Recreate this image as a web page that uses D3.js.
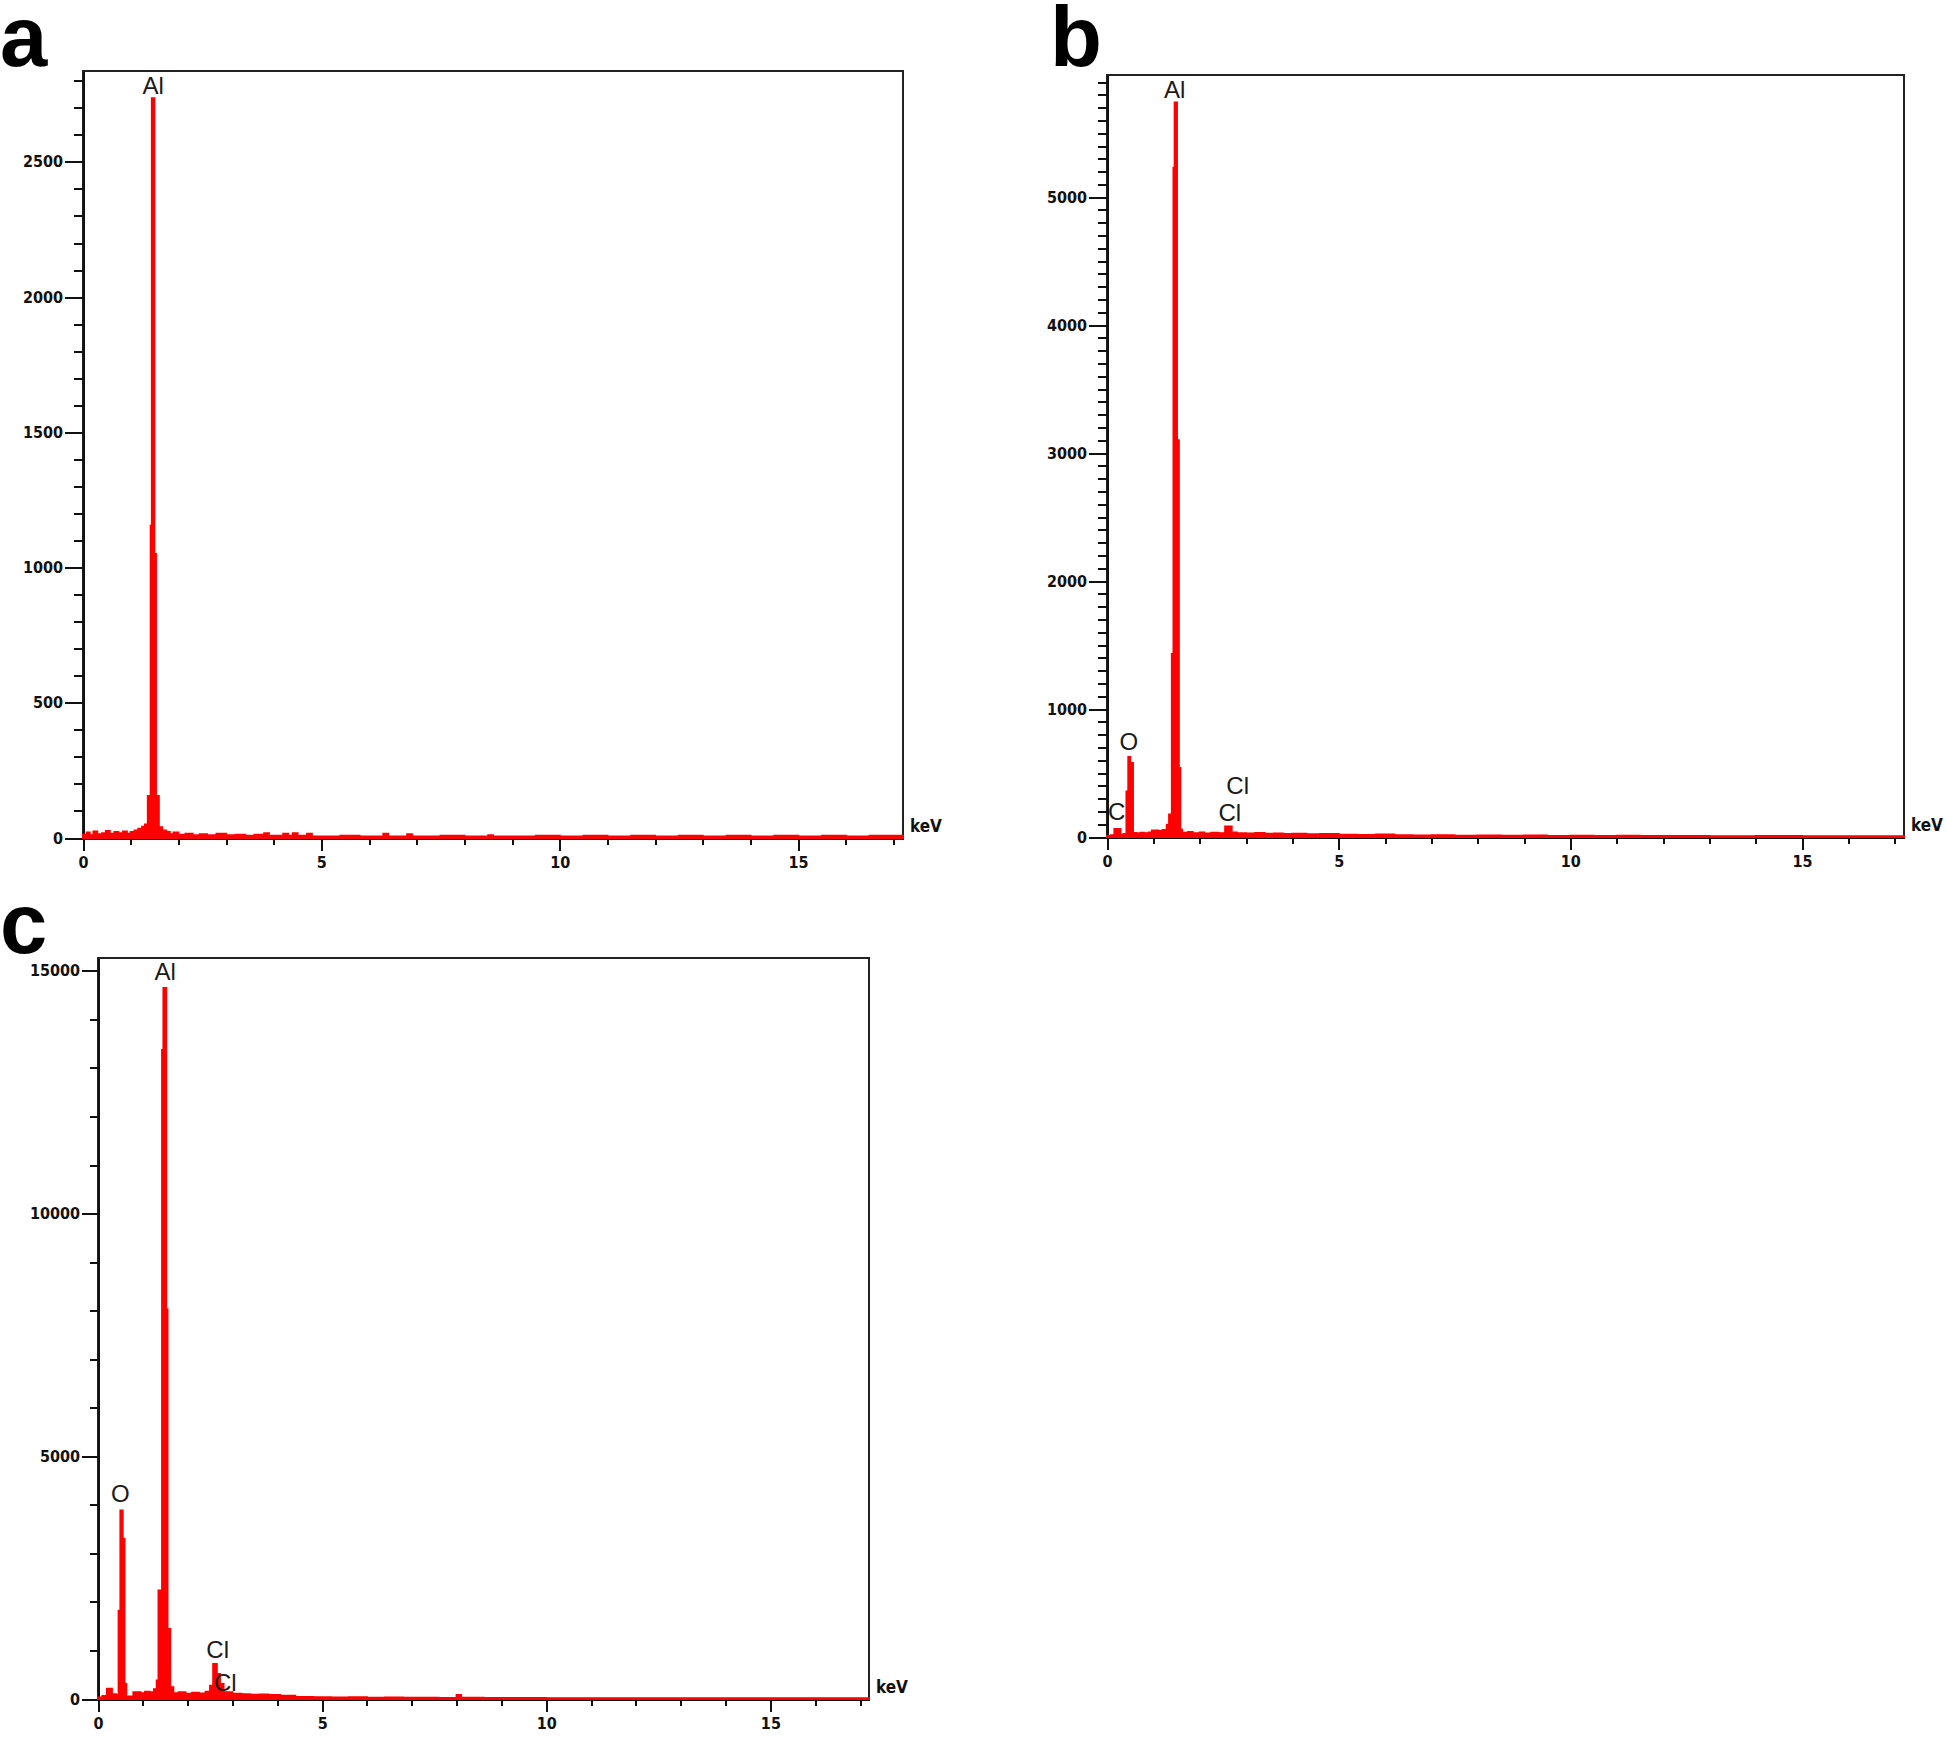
<!DOCTYPE html>
<html>
<head>
<meta charset="utf-8">
<title>EDX spectra</title>
<script src="https://cdn.jsdelivr.net/npm/d3@7"></script>
<style>
  html, body { margin: 0; background: #fff; }
  .axis path, .axis line { stroke: #111; stroke-width: 2; shape-rendering: crispEdges; }
  .axis text {
    font-family: "Liberation Sans Narrow", "DejaVu Sans Condensed", sans-serif;
    font-weight: bold; font-size: 16px; fill: #111;
  }
  .frame { fill: none; stroke: #222; stroke-width: 2; shape-rendering: crispEdges; }
  .spectrum { fill: #ff0000; stroke: #ff0000; stroke-width: 2; }
  .peak-label { font-family: "Liberation Sans", Arial, sans-serif; font-size: 24px; fill: #1a1a1a; text-anchor: middle; }
  .unit { font-family: "Liberation Sans Narrow", "DejaVu Sans Condensed", sans-serif; font-weight: bold; font-size: 17px; fill: #111; }
  .panel-label { font-family: "Liberation Sans", Arial, sans-serif; font-weight: bold; font-size: 85px; fill: #000; }
</style>
</head>
<body>
<svg id="chart" width="1946" height="1740"></svg>
<script>
// energy axis (keV), shared by the three spectra
var xMax = 17.2;
var xMajor = [0, 5, 10, 15];

// y ticks per panel
var yMaxA = 2836, yMajorA = [0, 500, 1000, 1500, 2000, 2500];
var yMaxB = 5955, yMajorB = [0, 1000, 2000, 3000, 4000, 5000];
var yMaxC = 15265, yMajorC = [0, 5000, 10000, 15000];

// spectra: [keV, counts]
var spectrumA = [
  [0.00, 12], [0.08, 20], [0.14, 10], [0.22, 24], [0.30, 14], [0.40, 18], [0.48, 26], [0.56, 16],
  [0.66, 22], [0.74, 18], [0.84, 24], [0.92, 16], [1.00, 22], [1.08, 28], [1.16, 34], [1.24, 42],
  [1.30, 50], [1.36, 155], [1.42, 1155], [1.445, 2735], [1.495, 1050], [1.53, 155], [1.59, 40],
  [1.66, 28], [1.74, 22], [1.82, 14], [1.90, 20], [2.00, 12], [2.15, 16], [2.30, 10], [2.45, 14],
  [2.60, 10], [2.80, 16], [3.00, 10], [3.20, 12], [3.40, 8], [3.60, 12], [3.80, 18], [3.90, 8],
  [4.20, 16], [4.30, 8], [4.40, 18], [4.50, 8], [4.70, 16], [4.80, 6], [5.40, 8], [5.80, 6],
  [6.30, 16], [6.40, 6], [6.80, 14], [6.90, 6], [7.50, 8], [8.00, 6], [8.50, 10], [8.60, 6],
  [9.50, 8], [10.0, 6], [10.5, 8], [11.0, 6], [11.5, 8], [12.0, 6], [12.5, 8], [13.0, 6],
  [13.5, 8], [14.0, 6], [14.5, 8], [15.0, 6], [15.5, 8], [16.0, 6], [16.5, 8], [17.2, 6]
];

var spectrumB = [
  [0.00, 8], [0.08, 14], [0.16, 62], [0.29, 18], [0.36, 24], [0.42, 356], [0.46, 625], [0.50, 578],
  [0.56, 31], [0.64, 28], [0.72, 34], [0.80, 30], [0.90, 36], [0.97, 50], [1.10, 46], [1.20, 55],
  [1.29, 96], [1.34, 175], [1.40, 1430], [1.435, 5230], [1.46, 5740], [1.51, 3100], [1.55, 540],
  [1.58, 57], [1.62, 34], [1.75, 40], [1.85, 30], [2.00, 36], [2.10, 28], [2.25, 34], [2.40, 30],
  [2.55, 83], [2.69, 36], [2.80, 30], [3.00, 28], [3.20, 32], [3.40, 26], [3.60, 28], [3.80, 24],
  [4.00, 26], [4.30, 22], [4.60, 24], [5.00, 18], [5.40, 16], [5.80, 20], [6.20, 14], [6.60, 12],
  [7.00, 14], [7.50, 10], [8.00, 12], [8.50, 10], [9.00, 12], [9.50, 8], [10.0, 10], [10.5, 8],
  [11.0, 10], [11.5, 8], [12.0, 8], [13.0, 6], [14.0, 8], [15.0, 6], [16.0, 6], [17.2, 6]
];

var spectrumC = [
  [0.00, 30], [0.10, 60], [0.20, 210], [0.31, 100], [0.40, 80], [0.46, 1820], [0.50, 3884],
  [0.55, 3300], [0.59, 310], [0.63, 50], [0.79, 137], [0.95, 120], [1.05, 150], [1.15, 140],
  [1.25, 200], [1.31, 380], [1.35, 2234], [1.43, 13370], [1.46, 14645], [1.52, 8030], [1.55, 1444],
  [1.61, 240], [1.68, 120], [1.80, 140], [1.95, 110], [2.10, 130], [2.25, 115], [2.40, 150],
  [2.50, 275], [2.57, 722], [2.65, 515], [2.72, 310], [2.80, 140], [3.00, 110], [3.20, 100],
  [3.40, 90], [3.60, 95], [3.80, 80], [4.06, 68], [4.40, 40], [4.80, 35], [5.20, 30], [5.60, 35],
  [6.00, 28], [6.40, 30], [6.80, 25], [7.20, 28], [7.60, 22], [8.00, 82], [8.10, 25], [8.60, 22],
  [9.00, 20], [9.50, 22], [10.0, 18], [11.0, 16], [12.0, 18], [13.0, 14], [14.0, 16], [15.0, 14],
  [16.0, 14], [17.2, 14]
];

// element labels: [text, keV, counts at text baseline]
var labelsA = [["Al", 1.47, 2750]];
var labelsB = [["Al", 1.46, 5776], ["O", 0.47, 682], ["C", 0.21, 130], ["Cl", 2.82, 336], ["Cl", 2.65, 122]];
var labelsC = [["Al", 1.50, 14816], ["O", 0.50, 4055], ["Cl", 2.67, 846], ["Cl", 2.84, 171]];

var svg = d3.select("#chart");

function drawPanel(p) {
  var x = d3.scaleLinear().domain([0, xMax]).range([p.left, p.right]);
  var y = d3.scaleLinear().domain([0, p.yMax]).range([p.bottom, p.top]);
  var g = svg.append("g");

  // frame (top + right)
  g.append("rect").attr("class", "frame")
    .attr("x", p.left).attr("y", p.top)
    .attr("width", p.right - p.left).attr("height", p.bottom - p.top);

  // y axis, major + minor ticks
  g.append("g").attr("class", "axis")
    .attr("transform", "translate(" + p.left + ",0)")
    .call(d3.axisLeft(y).tickValues(d3.range(0, p.yMax, p.yMinor)).tickSize(p.minorLen).tickSizeOuter(0).tickFormat(""));
  g.append("g").attr("class", "axis")
    .attr("transform", "translate(" + p.left + ",0)")
    .call(d3.axisLeft(y).tickValues(p.yMajor).tickSize(p.majorLen).tickSizeOuter(0).tickPadding(2).tickFormat(d3.format("d")));

  // x axis
  g.append("g").attr("class", "axis")
    .attr("transform", "translate(0," + p.bottom + ")")
    .call(d3.axisBottom(x).tickValues(d3.range(0, 18, 1)).tickSize(7).tickSizeOuter(0).tickFormat(""));
  g.append("g").attr("class", "axis")
    .attr("transform", "translate(0," + p.bottom + ")")
    .call(d3.axisBottom(x).tickValues(xMajor).tickSize(13).tickSizeOuter(0).tickPadding(6));

  // spectrum drawn on top of the baseline
  var area = d3.area()
    .x(function(d) { return x(d[0]); })
    .y0(y(0))
    .y1(function(d) { return y(d[1]); })
    .curve(d3.curveStepAfter);
  g.append("path").datum(p.data).attr("class", "spectrum").attr("d", area);

  g.selectAll(".peak-label").data(p.labels).enter().append("text")
    .attr("class", "peak-label")
    .attr("x", function(d) { return x(d[1]); })
    .attr("y", function(d) { return y(d[2]); })
    .text(function(d) { return d[0]; });

  g.append("text").attr("class", "unit")
    .attr("x", p.right + 7).attr("y", p.bottom - 6).text("keV");

  g.append("text").attr("class", "panel-label")
    .attr("x", p.labelX).attr("y", p.labelY).text(p.name);
}

drawPanel({name: "a", labelX: 0, labelY: 66, left: 83, top: 71, right: 903, bottom: 838,
  yMax: yMaxA, yMajor: yMajorA, yMinor: 100, majorLen: 18, minorLen: 9, data: spectrumA, labels: labelsA});
drawPanel({name: "b", labelX: 1050, labelY: 66, left: 1107, top: 75, right: 1904, bottom: 837,
  yMax: yMaxB, yMajor: yMajorB, yMinor: 100, majorLen: 18, minorLen: 9, data: spectrumB, labels: labelsB});
drawPanel({name: "c", labelX: 0, labelY: 953, left: 98, top: 958, right: 869, bottom: 1699,
  yMax: yMaxC, yMajor: yMajorC, yMinor: 1000, majorLen: 16, minorLen: 8, data: spectrumC, labels: labelsC});
</script>
</body>
</html>
